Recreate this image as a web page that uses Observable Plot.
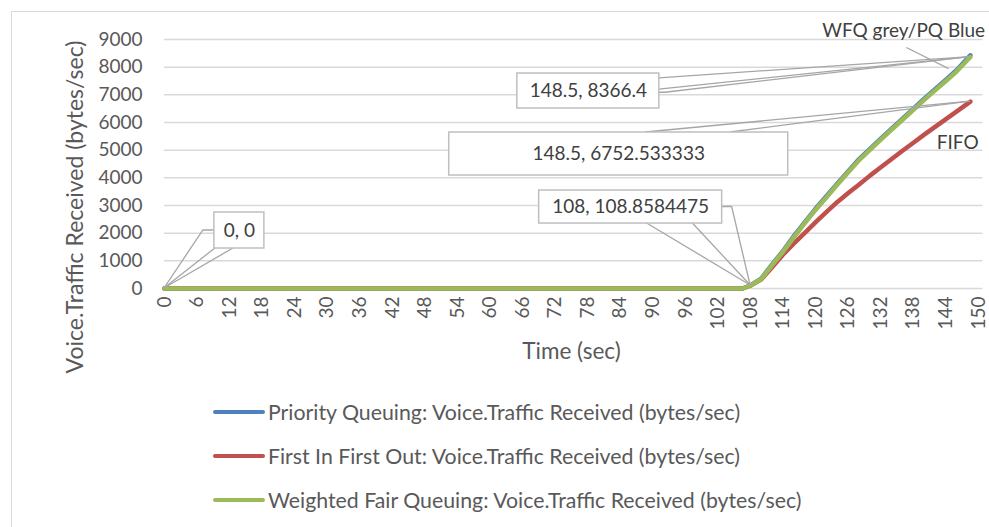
<!DOCTYPE html>
<html><head><meta charset="utf-8">
<script src="https://cdn.jsdelivr.net/npm/d3@7"></script>
<script src="https://cdn.jsdelivr.net/npm/@observablehq/plot@0.6"></script>
<style>
body{margin:0;background:#fff;font-family:Lato,"Open Sans",sans-serif;overflow:hidden;}
#frame{position:absolute;left:11px;top:11px;width:1000px;height:560px;border:1px solid #d9d9d9;box-sizing:border-box;}
#chart{position:absolute;left:0;top:0;}
#legend{position:absolute;left:213px;top:390px;}
.item{display:flex;align-items:center;height:44px;font-size:21.3px;color:#595959;white-space:nowrap;}
.swatch{width:52px;height:4.5px;border-radius:3px;margin-right:3px;}
</style></head><body>
<div id="frame"></div>
<div id="chart"></div>
<div id="legend"></div>
<script>
// ---- data ----
const time = [0, 106.5, 108, 110, 112, 114, 116, 118, 120, 122, 124, 126, 128, 130, 132, 134, 136, 138, 140, 142, 144, 146, 148.5];
const pqValues   = [0, 0, 108.86, 370, 880, 1360, 1900, 2400, 2890, 3340, 3800, 4240, 4680, 5050, 5420, 5780, 6140, 6500, 6860, 7200, 7545, 7900, 8430];
const fifoValues = [0, 0, 108.86, 330, 780, 1230, 1630, 2010, 2400, 2770, 3130, 3450, 3760, 4080, 4380, 4680, 4980, 5270, 5560, 5840, 6120, 6400, 6752.53];
const wfqValues  = [0, 0, 108.86, 350, 850, 1330, 1860, 2360, 2850, 3300, 3760, 4200, 4640, 5010, 5380, 5740, 6100, 6460, 6820, 7160, 7500, 7850, 8366.4];
const seriesNames = [
  "Priority Queuing: Voice.Traffic Received (bytes/sec)",
  "First In First Out: Voice.Traffic Received (bytes/sec)",
  "Weighted Fair Queuing: Voice.Traffic Received (bytes/sec)"
];
const seriesColors = ["#4F81BD", "#C0504D", "#9BBB59"];
const xTicks = [0, 6, 12, 18, 24, 30, 36, 42, 48, 54, 60, 66, 72, 78, 84, 90, 96, 102, 108, 114, 120, 126, 132, 138, 144, 150];
const yTicks = [0, 1000, 2000, 3000, 4000, 5000, 6000, 7000, 8000, 9000];
const xTitle = "Time (sec)";
const yTitle = "Voice.Traffic Received (bytes/sec)";

// data callouts: point and label centre (data units)
const calloutPoints = [
  {x: 0, y: 0, label: "0, 0", lx: 13.8, ly: 2096},
  {x: 108, y: 108.8584475, label: "108, 108.8584475", lx: 85.9, ly: 2945},
  {x: 148.5, y: 8366.4, label: "148.5, 8366.4", lx: 78.1, ly: 7138},
  {x: 148.5, y: 6752.533333, label: "148.5, 6752.533333", lx: 83.7, ly: 4861}
];
// free annotations
const notes = [
  {x: 121.2, y: 9324, text: "WFQ grey/PQ Blue"},
  {x: 142.3, y: 5277, text: "FIFO"}
];
const noteLeader = [{x1: 136.7, y1: 8710, x2: 144.5, y2: 7950}];

// ---- layout of callout boxes (pixels) ----
const boxLayout = [
  {w: 50, h: 36, wedge: [[0.02, 1], [0.38, 1]], leader: {from: [0, 0.5], elbow: -11}},
  {w: 183, h: 33, wedge: [[0.59, 1], [0.84, 1]], leader: {from: [1, 0.5], elbow: 10}},
  {w: 142, h: 35, wedge: [[1, 0.14], [1, 0.46]], leader: {from: [1, 0.55], elbow: 6}},
  {w: 339, h: 43, wedge: [[0.58, 0], [0.83, 0]], leader: null}
];

const rows = [];
[pqValues, fifoValues, wfqValues].forEach((vals, i) => {
  time.forEach((t, j) => rows.push({series: seriesNames[i], time: t, value: vals[j]}));
});

const textColor = "#595959";
const plot = Plot.plot({
  width: 989, height: 378,
  marginLeft: 164, marginRight: 11, marginTop: 39, marginBottom: 90,
  style: {fontFamily: "Lato, 'Open Sans', sans-serif", fontSize: "19px", color: textColor, background: "transparent", overflow: "visible"},
  x: {domain: [0, 150], ticks: xTicks, tickFormat: d => String(d), tickRotate: -90, tickSize: 0, tickPadding: 8, label: null},
  y: {domain: [0, 9000], ticks: yTicks, tickFormat: d => String(d), tickSize: 0, tickPadding: 22, label: null},
  color: {domain: seriesNames, range: seriesColors},
  marks: [
    Plot.ruleY(yTicks, {stroke: "#d9d9d9", strokeWidth: 1.5, x1: 0, x2: 150.8}),
    Plot.line(rows, {x: "time", y: "value", z: "series", stroke: "series", strokeWidth: 4.5, strokeLinecap: "round", strokeLinejoin: "round"}),
    Plot.link(noteLeader, {x1: "x1", y1: "y1", x2: "x2", y2: "y2", stroke: "#a6a6a6", strokeWidth: 1.3}),
    Plot.text(notes, {x: "x", y: "y", text: "text", textAnchor: "start", fill: "#404040", fontSize: 19}),
    Plot.text([yTitle], {frameAnchor: "left", textAnchor: "middle", rotate: -90, dx: -89, dy: 43, fill: textColor, fontSize: 23}),
    Plot.text([xTitle], {frameAnchor: "bottom", textAnchor: "middle", dy: 70, fill: textColor, fontSize: 22.5}),
    Plot.text(calloutPoints, {x: "lx", y: "ly", text: "label", fill: "#404040", fontSize: 19})
  ]
});
document.getElementById("chart").appendChild(plot);

// boxes and leaders for callouts, placed with the plot's own scales
const xs = plot.scale("x"), ys = plot.scale("y");
const sx = d3.scaleLinear(xs.domain, xs.range), sy = d3.scaleLinear(ys.domain, ys.range);
const svg = d3.select(plot);
const calloutTexts = svg.selectAll("text").filter(function() { return calloutPoints.some(c => c.label === this.textContent); });
const textGroup = calloutTexts.node().parentNode;
const g = d3.select(plot.insertBefore(document.createElementNS("http://www.w3.org/2000/svg", "g"), textGroup));
calloutPoints.forEach((c, i) => {
  const L = boxLayout[i];
  const cx = sx(c.lx), cy = sy(c.ly), px = sx(c.x), py = sy(c.y);
  const x0 = cx - L.w / 2, y0 = cy - L.h / 2;
  const at = ([fx, fy]) => [x0 + fx * L.w, y0 + fy * L.h];
  L.wedge.forEach(p => {
    const [ax, ay] = at(p);
    g.append("line").attr("x1", ax).attr("y1", ay).attr("x2", px).attr("y2", py).attr("stroke", "#a6a6a6").attr("stroke-width", 1.3);
  });
  if (L.leader) {
    const [ax, ay] = at(L.leader.from);
    g.append("polyline").attr("points", `${ax},${ay} ${ax + L.leader.elbow},${ay} ${px},${py}`)
      .attr("fill", "none").attr("stroke", "#a6a6a6").attr("stroke-width", 1.3);
  }
  g.append("rect").attr("x", x0).attr("y", y0).attr("width", L.w).attr("height", L.h)
    .attr("fill", "#fff").attr("stroke", "#bfbfbf").attr("stroke-width", 1.5);
});

// legend
const legend = d3.select("#legend");
seriesNames.forEach((name, i) => {
  const item = legend.append("div").attr("class", "item");
  item.append("div").attr("class", "swatch").style("background", seriesColors[i]);
  item.append("span").text(name);
});
</script>
</body></html>
